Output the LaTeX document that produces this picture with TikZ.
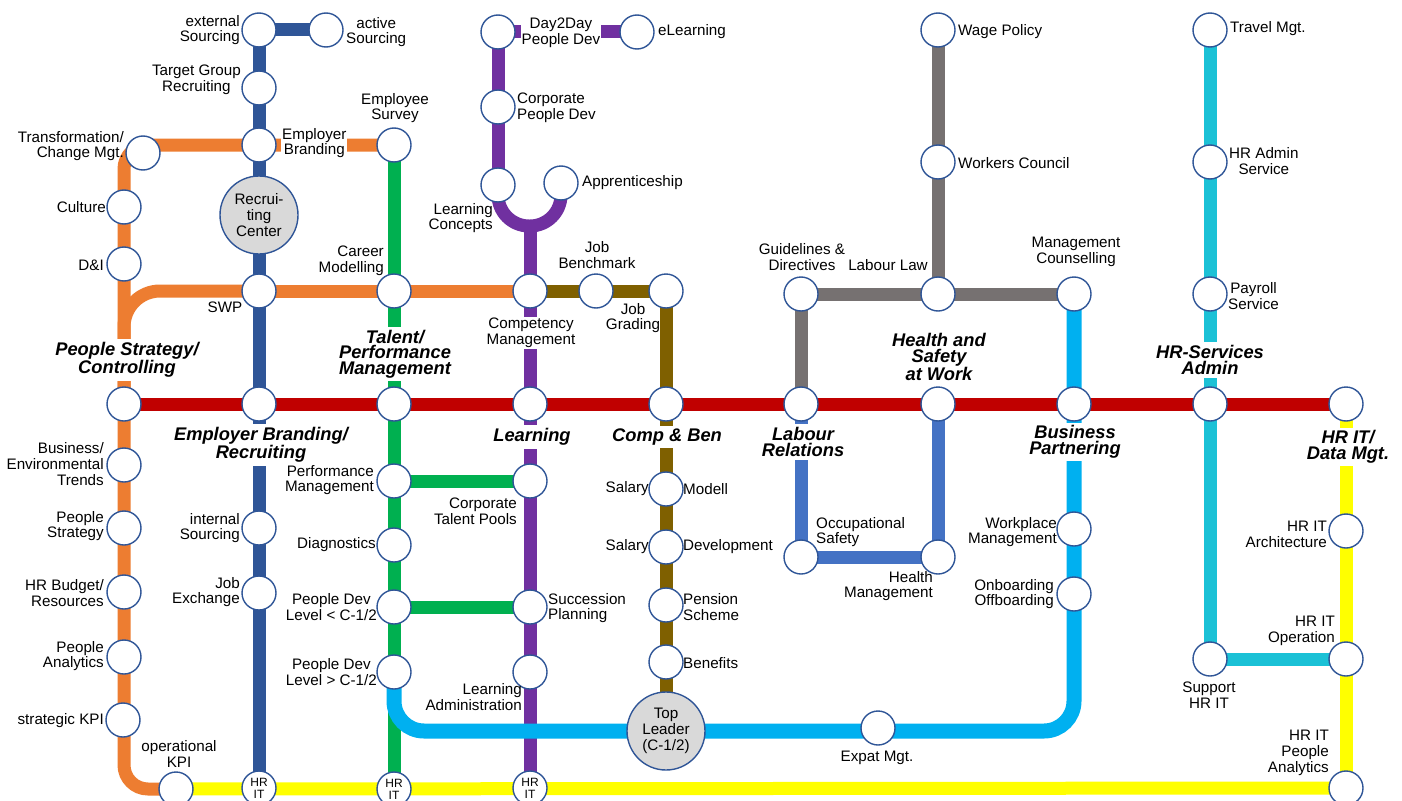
\documentclass[tikz,border=0pt]{standalone}
\usepackage{fontspec}
\setmainfont{Liberation Sans}
\usetikzlibrary{backgrounds}
\definecolor{cBlue}{HTML}{2F5597}
\definecolor{cOrange}{HTML}{ED7D31}
\definecolor{cRed}{HTML}{C00000}
\definecolor{cGreen}{HTML}{00B050}
\definecolor{cPurple}{HTML}{7030A0}
\definecolor{cBrown}{HTML}{7F6000}
\definecolor{cGray}{HTML}{767171}
\definecolor{cMid}{HTML}{4472C4}
\definecolor{cLight}{HTML}{00B0F0}
\definecolor{cCyan}{HTML}{1BC1D6}
\definecolor{cYellow}{HTML}{FFFF00}
\definecolor{cRing}{HTML}{2F5597}
\definecolor{cBig}{HTML}{D9D9D9}
\begin{document}
\begin{tikzpicture}[x=1pt,y=-1pt,
 st/.style={circle,draw=cRing,line width=1.4pt,fill=white,minimum size=34pt,inner sep=0pt},
 bigst/.style={circle,draw=cRing,line width=1.4pt,fill=cBig,minimum size=78pt,inner sep=0pt,align=center,font=\fontsize{15.2}{15.8}\selectfont},
 itst/.style={st,align=center,font=\fontsize{12}{12}\selectfont},
 lbl/.style={inner sep=1pt,font=\fontsize{15.2}{15.8}\selectfont},
 ttl/.style={inner sep=3pt,fill=white,align=center,font=\fontsize{18.3}{15.6}\selectfont\bfseries\itshape},
 ln/.style={line width=13pt},
]
\useasboundingbox (0,0) rectangle (1402,800);
% ---------- stations
% blue
\node[st] (exs) at (259,30) {};
\node[st] (acs) at (326,30) {};
\node[st] (tgr) at (259,88) {};
\node[st] (ebs) at (259,145) {};
\node[bigst] (rc) at (259,215) {Recrui-\\ting\\Center};
\node[st] (swp) at (259,291) {};
\node[st] (m2) at (259,404) {};
\node[st] (ins) at (259,528) {};
\node[st] (jex) at (259,593) {};
\node[itst] (it1) at (259,788) {HR\\IT};
% orange
\node[st] (tcm) at (143,153) {};
\node[st] (cul) at (124,207) {};
\node[st] (dni) at (124,264) {};
\node[st] (m1) at (124,404) {};
\node[st] (bet) at (124,465) {};
\node[st] (pst) at (124,528) {};
\node[st] (hrb) at (124,592) {};
\node[st] (pan) at (124,657) {};
\node[st] (skpi) at (123,720) {};
\node[st] (okpi) at (176,789) {};
% green
\node[st] (esv) at (394,145) {};
\node[st] (cmo) at (394,291) {};
\node[st] (m3) at (394,404) {};
\node[st] (pm) at (394,481) {};
\node[st] (dia) at (394,545) {};
\node[st] (pdl) at (394,607) {};
\node[st] (pdg) at (394,672) {};
\node[itst] (it2) at (394,789) {HR\\IT};
% purple
\node[st] (d2d) at (498,32) {};
\node[st] (elr) at (637,32) {};
\node[st] (cpd) at (498,107) {};
\node[st] (lco) at (498,185) {};
\node[st] (app) at (561,183) {};
\node[st] (cmg) at (530,291) {};
\node[st] (m4) at (530,404) {};
\node[st] (ctp) at (530,481) {};
\node[st] (spl) at (530,607) {};
\node[st] (lad) at (530,672) {};
\node[itst] (it3) at (530,788) {HR\\IT};
\coordinate (ubot) at (530,226);
% brown
\node[st] (jbm) at (596,291) {};
\node[st] (jgr) at (666,291) {};
\node[st] (m5) at (666,404) {};
\node[st] (smo) at (666,489) {};
\node[st] (sde) at (666,547) {};
\node[st] (pen) at (666,605) {};
\node[st] (ben) at (666,662) {};
\node[bigst] (tl) at (666,731) {Top\\Leader\\(C-1/2)};
% gray
\node[st] (wpo) at (938,30) {};
\node[st] (wco) at (938,162) {};
\node[st] (llw) at (938,294) {};
\node[st] (gdi) at (801,294) {};
\node[st] (mco) at (1074,294) {};
\node[st] (m6) at (801,404) {};
% health
\node[st] (m7) at (938,404) {};
\node[st] (osa) at (801,557) {};
\node[st] (hma) at (938,557) {};
% light blue
\node[st] (m8) at (1074,404) {};
\node[st] (wma) at (1074,529) {};
\node[st] (onb) at (1074,594) {};
\node[st] (exm) at (878,728) {};
\coordinate (lbr) at (1074,731);
% cyan
\node[st] (trm) at (1210,30) {};
\node[st] (has) at (1210,162) {};
\node[st] (pay) at (1210,294) {};
\node[st] (m9) at (1210,404) {};
\node[st] (shr) at (1210,659) {};
% yellow
\node[st] (m10) at (1346,404) {};
\node[st] (ita) at (1346,531) {};
\node[st] (ito) at (1346,659) {};
\node[st] (itp) at (1346,788) {};
% ---------- lines
\begin{pgfonlayer}{background}
\fill[white] (0,0) rectangle (1402,800);
\draw[ln,cBlue] (exs.center) -- (acs.center);
\draw[ln,cBlue] (exs.center) -- (it1.center);
\draw[ln,cOrange,rounded corners=24pt] (esv.center) -| (m1.center);
\draw[ln,cOrange,rounded corners=36pt] (swp.center) -| (m1.center);
\draw[ln,cOrange] (swp.center) -- (cmg.center);
\draw[ln,cOrange,rounded corners=24pt] (m1.center) |- (okpi.center);
\draw[ln,cRed] (m1.center) -- (m10.center);
\draw[ln,cGreen] (esv.center) -- (it2.center);
\draw[ln,cGreen] (pm.center) -- (ctp.center);
\draw[ln,cGreen] (pdl.center) -- (spl.center);
\draw[ln,cPurple] (d2d.center) -- (elr.center);
\draw[ln,cPurple] (d2d.center) -- (cpd.center) -- (lco.center);
\draw[ln,cPurple,rounded corners=31pt] (lco.center) -- (lco.center |- ubot) -- (app.center |- ubot) -- (app.center);
\draw[ln,cPurple] (ubot) -- (it3.center);
\draw[ln,cBrown] (cmg.center) -- (jgr.center) -- (tl.center);
\draw[ln,cGray] (wpo.center) -- (llw.center);
\draw[ln,cGray] (gdi.center) -- (mco.center);
\draw[ln,cGray] (gdi.center) -- (m6.center);
\draw[ln,cMid] (m6.center) -- (osa.center) -- (hma.center) -- (m7.center);
\draw[ln,cCyan] (trm.center) -- (shr.center) -- (ito.center);
\draw[ln,cYellow] (m10.center) -- (itp.center);
\draw[ln,cYellow] (okpi.center) -- (itp.center);
\draw[ln,cLight,line width=15pt,rounded corners=30pt] (mco.center) -- (lbr) -- (tl.center) -| (pdg.center);
\end{pgfonlayer}
% ---------- labels
\node[lbl,anchor=east,align=right] (l1) at (241,30) {external\\Sourcing};
\node[lbl,anchor=west,align=center] (l2) at (345,32) {active\\Sourcing};
\node[lbl,anchor=east,align=center] (l3) at (242,80) {Target Group\\Recruiting};
\node[lbl,align=center] (l4) at (395,108) {Employee\\Survey};
\node[lbl,anchor=west,align=center,fill=white] (l5) at (281,143) {Employer\\Branding};
\node[lbl,anchor=east,align=right] (l6) at (125,146) {Transformation/\\Change Mgt.};
\node[lbl,anchor=east] (l7) at (107,207) {Culture};
\node[lbl,anchor=east] (l8) at (105,265) {D\&I};
\node[lbl] (l9) at (225,307) {SWP};
\node[lbl,anchor=east,align=right] (l10) at (385,261) {Career\\Modelling};
\node[lbl,anchor=east,align=right] (l11) at (494,218) {Learning\\Concepts};
\node[lbl,anchor=west] (l12) at (581,183) {Apprenticeship};
\node[lbl,align=center,fill=white] (l13) at (561,33) {Day2Day\\People Dev};
\node[lbl,anchor=west] (l14) at (657,32) {eLearning};
\node[lbl,anchor=west,align=left] (l15) at (516,108) {Corporate\\People Dev};
\node[lbl,align=center] (l16) at (597,255) {Job\\Benchmark};
\node[lbl,align=center] (l17) at (633,318) {Job\\Grading};
\node[lbl,align=center,fill=white] (l18) at (531,333) {Competency\\Management};
\node[lbl,align=center] (l19) at (802,257) {Guidelines \&\\Directives};
\node[lbl] (l20) at (888,265) {Labour Law};
\node[lbl,align=center] (l21) at (1076,252) {Management\\Counselling};
\node[lbl,anchor=west] (l22) at (957,32) {Wage Policy};
\node[lbl,anchor=west] (l23) at (957,163) {Workers Council};
\node[lbl,anchor=west] (l24) at (1229,29) {Travel Mgt.};
\node[lbl,anchor=west,align=center] (l25) at (1228,161) {HR Admin\\Service};
\node[lbl,anchor=west,align=center] (l26) at (1227,296) {Payroll\\Service};
% titles
\node[ttl] (t1) at (127,360) {People Strategy/\\Controlling};
\node[ttl] (t2) at (395,354) {Talent/\\Performance\\Management};
\node[ttl] (t3) at (261,445) {Employer Branding/\\Recruiting};
\node[ttl] (t4) at (532,437) {Learning};
\node[ttl] (t5) at (667,437) {Comp \& Ben};
\node[ttl] (t6) at (803,442) {Labour\\Relations};
\node[ttl] (t7) at (939,357) {Health and\\Safety\\at Work};
\node[ttl] (t8) at (1075,442) {Business\\Partnering};
\node[ttl] (t9) at (1210,360) {HR-Services\\Admin};
\node[ttl] (t10) at (1348,447) {HR IT/\\Data Mgt.};
% lower labels
\node[lbl,anchor=east,align=right] (l37) at (105,464) {Business/\\Environmental\\Trends};
\node[lbl,anchor=east,align=right] (l38) at (105,526) {People\\Strategy};
\node[lbl,anchor=east,align=right] (l39) at (105,593) {HR Budget/\\Resources};
\node[lbl,anchor=east,align=right] (l40) at (105,656) {People\\Analytics};
\node[lbl,anchor=east] (l41) at (105,721) {strategic KPI};
\node[lbl,align=center] (l42) at (179,754) {operational\\KPI};
\node[lbl,anchor=east,align=right] (l43) at (241,528) {internal\\Sourcing};
\node[lbl,anchor=east,align=right] (l44) at (241,592) {Job\\Exchange};
\node[lbl,anchor=east,align=right] (l45) at (375,480) {Performance\\Management};
\node[lbl,anchor=east,align=right] (l46) at (518,511) {Corporate\\Talent Pools};
\node[lbl,anchor=east] (l47) at (377,545) {Diagnostics};
\node[lbl,anchor=east,align=center] (l48) at (378,607) {People Dev\\Level < C-1/2};
\node[lbl,anchor=east,align=center] (l49) at (378,672) {People Dev\\Level > C-1/2};
\node[lbl,anchor=west,align=left] (l50) at (547,608) {Succession\\Planning};
\node[lbl,anchor=east,align=right] (l51) at (523,697) {Learning\\Administration};
\node[lbl,anchor=east] (l52) at (650,489) {Salary};
\node[lbl,anchor=west] (l53) at (682,489) {Modell};
\node[lbl,anchor=east] (l54) at (650,547) {Salary};
\node[lbl,anchor=west] (l55) at (682,547) {Development};
\node[lbl,anchor=west,align=left] (l56) at (682,607) {Pension\\Scheme};
\node[lbl,anchor=west] (l57) at (682,663) {Benefits};
\node[lbl] (l58) at (877,758) {Expat Mgt.};
\node[lbl,anchor=west,align=left] (l59) at (815,532) {Occupational\\Safety};
\node[lbl,anchor=east,align=right] (l60) at (934,586) {Health\\Management};
\node[lbl,anchor=east,align=right] (l61) at (1058,532) {Workplace\\Management};
\node[lbl,anchor=east,align=right] (l62) at (1055,594) {Onboarding\\Offboarding};
\node[lbl,anchor=east,align=right] (l63) at (1328,534) {HR IT\\Architecture};
\node[lbl,anchor=east,align=right] (l64) at (1336,631) {HR IT\\Operation};
\node[lbl,align=center] (l65) at (1209,695) {Support\\HR IT};
\node[lbl,anchor=east,align=right] (l66) at (1330,753) {HR IT\\People\\Analytics};
\end{tikzpicture}
\end{document}
